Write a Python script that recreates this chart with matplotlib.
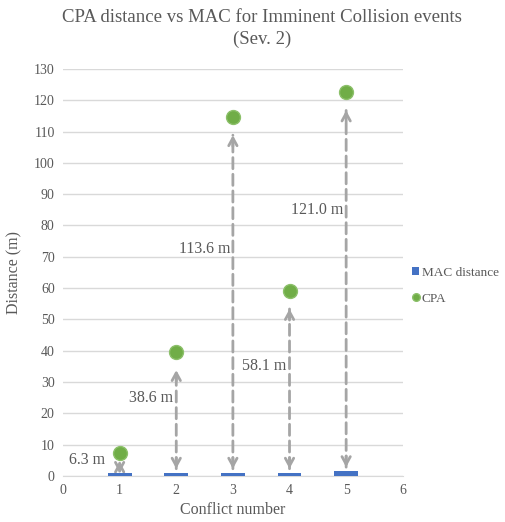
import matplotlib.pyplot as plt

plt.rcParams['font.family'] = ['Liberation Serif', 'DejaVu Serif']

conflicts = [1, 2, 3, 4, 5]
mac_distance = [1.0, 1.0, 1.0, 1.0, 1.5]
gaps = [6.3, 38.6, 113.6, 58.1, 121.0]
cpa = [m + g for m, g in zip(mac_distance, gaps)]

# where each gap label sits along the arrow (y) and how far left of it (x)
label_y = [5, 25, 72.5, 35, 85]
label_dx = [0.26, 0.05, 0.05, 0.05, 0.05]

TEXT = '#595959'
GRID = '#d9d9d9'
ARROW = '#a5a5a5'

fig = plt.figure(figsize=(5.06, 5.22), dpi=100)
ax = fig.add_axes([0.1245, 0.0881, 0.6715, 0.7799])

ax.bar(conflicts, mac_distance, width=0.42, color='#4472c4', label='MAC distance', zorder=3)
ax.plot(conflicts, cpa, 'o', color='#70ad47', markersize=10,
        markeredgecolor='#8cc06a', markeredgewidth=1, label='CPA', zorder=4)

head = dict(arrowstyle='->,head_length=0.55,head_width=0.3', color=ARROW, lw=2,
            shrinkA=0)
for x, lo, hi, g, ly, dx in zip(conflicts, mac_distance, cpa, gaps, label_y, label_dx):
    short = g < 15
    top_gap, bot_gap, stem = (6, 0, 7) if short else (13, 3, 8)
    if not short:
        # dashed shaft between the bar top and the CPA marker
        ax.annotate('', xy=(x, hi), xytext=(x, lo),
                    arrowprops=dict(arrowstyle='-', color=ARROW, lw=2,
                                    linestyle=(0, (4, 2)), shrinkA=bot_gap,
                                    shrinkB=top_gap),
                    zorder=2)
    # solid open heads at both ends
    ax.annotate('', xy=(x, hi), xytext=(0, -(top_gap + stem)), textcoords='offset points',
                arrowprops=dict(head, shrinkB=top_gap), zorder=2)
    ax.annotate('', xy=(x, lo), xytext=(0, bot_gap + stem), textcoords='offset points',
                arrowprops=dict(head, shrinkB=bot_gap), zorder=2)
    ax.text(x - dx, ly, f'{g:.1f} m', ha='right', va='center',
            fontsize=11.5, color=TEXT, zorder=5)

ax.set_xlim(0, 6)
ax.set_ylim(0, 130)
ax.set_xticks(range(0, 7))
ax.set_yticks(range(0, 131, 10))
ax.yaxis.grid(True, color=GRID, lw=1)
ax.set_axisbelow(True)
for s in ['top', 'right', 'left']:
    ax.spines[s].set_visible(False)
ax.spines['bottom'].set_color(GRID)
ax.tick_params(length=0, colors=TEXT, labelsize=10, pad=6)

ax.set_xlabel('Conflict number', fontsize=11.5, color=TEXT, labelpad=3)
ax.set_ylabel('Distance (m)', fontsize=11.5, color=TEXT, labelpad=8)
fig.text(0.518, 0.982, 'CPA distance vs MAC for Imminent Collision events\n(Sev. 2)',
         ha='center', va='top', fontsize=13.5, color=TEXT, linespacing=1.3)

handles, labels = ax.get_legend_handles_labels()
ax.legend(handles[::-1], labels[::-1], loc='center left', bbox_to_anchor=(1.0, 0.467),
          frameon=False, fontsize=9.5, labelcolor=TEXT, handlelength=0.55,
          handleheight=0.55, handletextpad=0.2, markerscale=0.55, labelspacing=1.05,
          borderaxespad=0.3)

fig.savefig('out.png', dpi=100)
